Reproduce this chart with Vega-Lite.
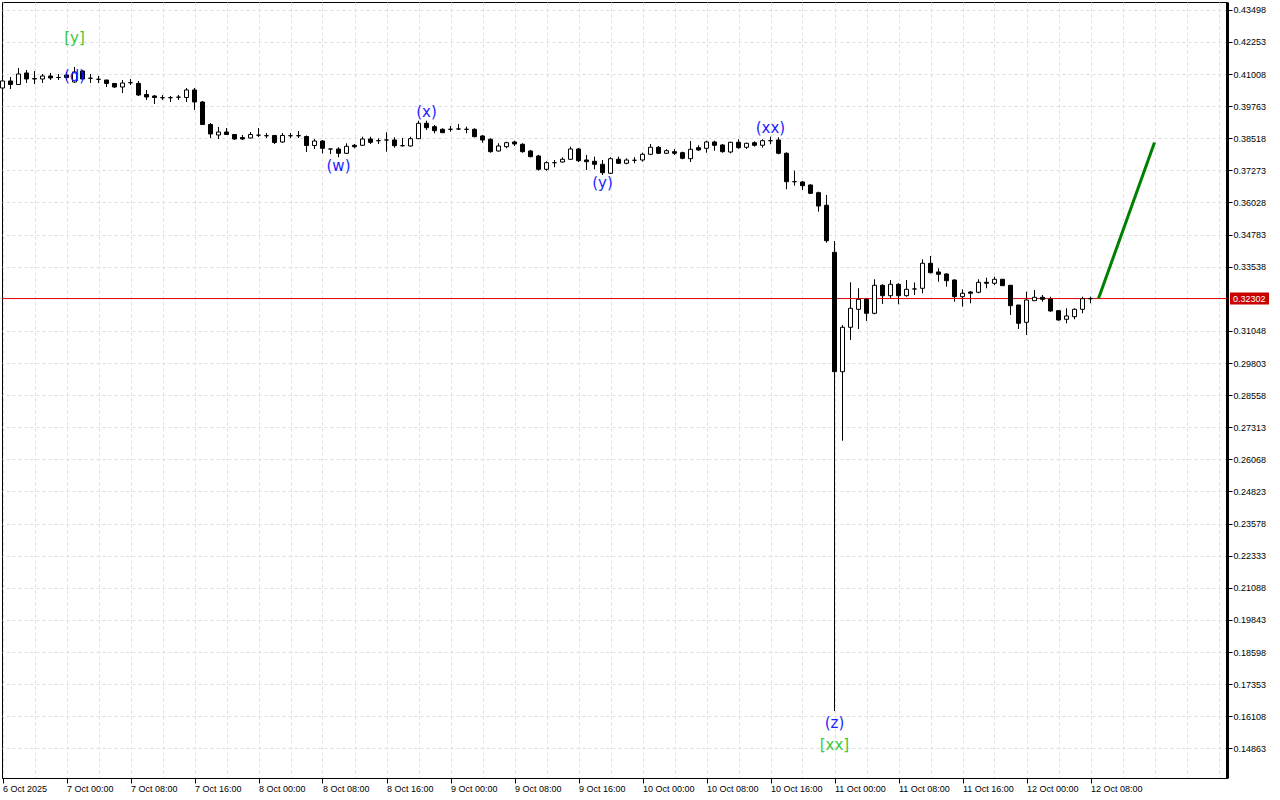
{
"$schema": "https://vega.github.io/schema/vega-lite/v6.json",
"width": 1225, "height": 776,
"autosize": {"type": "none"},
"padding": {"left": 2, "top": 2, "right": 53, "bottom": 22},
"background": "#ffffff",
"config": {"view": {"stroke": "#000000", "strokeWidth": 1}, "font": "Liberation Sans",
  "axis": {"labelFont": "Liberation Sans", "labelFontSize": 9, "labelColor": "#000000"}},
"resolve": {"axis": {"x": "independent", "y": "independent"}},
"datasets": {
"candles": [
{"t":"2025-10-06T16:00:00Z","o":0.40466,"h":0.40815,"l":0.40427,"c":0.40738},
{"t":"2025-10-06T17:00:00Z","o":0.40738,"h":0.40893,"l":0.40427,"c":0.40602},
{"t":"2025-10-06T18:00:00Z","o":0.40602,"h":0.41242,"l":0.40583,"c":0.41009},
{"t":"2025-10-06T19:00:00Z","o":0.41048,"h":0.41164,"l":0.40660,"c":0.40815},
{"t":"2025-10-06T20:00:00Z","o":0.40830,"h":0.41125,"l":0.40621,"c":0.40815},
{"t":"2025-10-06T21:00:00Z","o":0.40815,"h":0.41009,"l":0.40660,"c":0.40931},
{"t":"2025-10-06T22:00:00Z","o":0.40931,"h":0.41048,"l":0.40776,"c":0.40854},
{"t":"2025-10-06T23:00:00Z","o":0.40873,"h":0.41009,"l":0.40776,"c":0.40873},
{"t":"2025-10-07T00:00:00Z","o":0.40970,"h":0.41087,"l":0.40776,"c":0.40873},
{"t":"2025-10-07T01:00:00Z","o":0.40699,"h":0.41280,"l":0.40660,"c":0.41087},
{"t":"2025-10-07T02:00:00Z","o":0.41125,"h":0.41164,"l":0.40776,"c":0.40815},
{"t":"2025-10-07T03:00:00Z","o":0.40845,"h":0.41009,"l":0.40660,"c":0.40845},
{"t":"2025-10-07T04:00:00Z","o":0.40804,"h":0.40931,"l":0.40660,"c":0.40804},
{"t":"2025-10-07T05:00:00Z","o":0.40776,"h":0.40776,"l":0.40505,"c":0.40641},
{"t":"2025-10-07T06:00:00Z","o":0.40641,"h":0.40660,"l":0.40466,"c":0.40505},
{"t":"2025-10-07T07:00:00Z","o":0.40505,"h":0.40776,"l":0.40272,"c":0.40660},
{"t":"2025-10-07T08:00:00Z","o":0.40672,"h":0.40815,"l":0.40583,"c":0.40672},
{"t":"2025-10-07T09:00:00Z","o":0.40641,"h":0.40738,"l":0.40156,"c":0.40195},
{"t":"2025-10-07T10:00:00Z","o":0.40214,"h":0.40389,"l":0.40001,"c":0.40117},
{"t":"2025-10-07T11:00:00Z","o":0.40156,"h":0.40195,"l":0.39846,"c":0.40098},
{"t":"2025-10-07T12:00:00Z","o":0.40090,"h":0.40195,"l":0.40001,"c":0.40090},
{"t":"2025-10-07T13:00:00Z","o":0.40090,"h":0.40156,"l":0.39923,"c":0.40090},
{"t":"2025-10-07T14:00:00Z","o":0.40110,"h":0.40195,"l":0.40001,"c":0.40110},
{"t":"2025-10-07T15:00:00Z","o":0.40098,"h":0.40466,"l":0.39923,"c":0.40389},
{"t":"2025-10-07T16:00:00Z","o":0.40389,"h":0.40466,"l":0.39613,"c":0.39923},
{"t":"2025-10-07T17:00:00Z","o":0.39923,"h":0.39962,"l":0.39032,"c":0.39051},
{"t":"2025-10-07T18:00:00Z","o":0.39051,"h":0.39109,"l":0.38528,"c":0.38683},
{"t":"2025-10-07T19:00:00Z","o":0.38644,"h":0.38954,"l":0.38489,"c":0.38760},
{"t":"2025-10-07T20:00:00Z","o":0.38760,"h":0.38915,"l":0.38644,"c":0.38663},
{"t":"2025-10-07T21:00:00Z","o":0.38663,"h":0.38683,"l":0.38450,"c":0.38489},
{"t":"2025-10-07T22:00:00Z","o":0.38547,"h":0.38644,"l":0.38450,"c":0.38489},
{"t":"2025-10-07T23:00:00Z","o":0.38528,"h":0.38760,"l":0.38508,"c":0.38663},
{"t":"2025-10-08T00:00:00Z","o":0.38636,"h":0.38915,"l":0.38567,"c":0.38636},
{"t":"2025-10-08T01:00:00Z","o":0.38617,"h":0.38722,"l":0.38528,"c":0.38617},
{"t":"2025-10-08T02:00:00Z","o":0.38625,"h":0.38644,"l":0.38295,"c":0.38353},
{"t":"2025-10-08T03:00:00Z","o":0.38373,"h":0.38722,"l":0.38334,"c":0.38625},
{"t":"2025-10-08T04:00:00Z","o":0.38617,"h":0.38722,"l":0.38528,"c":0.38617},
{"t":"2025-10-08T05:00:00Z","o":0.38617,"h":0.38799,"l":0.38528,"c":0.38617},
{"t":"2025-10-08T06:00:00Z","o":0.38586,"h":0.38625,"l":0.37985,"c":0.38237},
{"t":"2025-10-08T07:00:00Z","o":0.38237,"h":0.38489,"l":0.38101,"c":0.38411},
{"t":"2025-10-08T08:00:00Z","o":0.38411,"h":0.38450,"l":0.37935,"c":0.38128},
{"t":"2025-10-08T09:00:00Z","o":0.38101,"h":0.38101,"l":0.37907,"c":0.38101},
{"t":"2025-10-08T10:00:00Z","o":0.38101,"h":0.38167,"l":0.37780,"c":0.37935},
{"t":"2025-10-08T11:00:00Z","o":0.37935,"h":0.38322,"l":0.37907,"c":0.38206},
{"t":"2025-10-08T12:00:00Z","o":0.38245,"h":0.38295,"l":0.38128,"c":0.38191},
{"t":"2025-10-08T13:00:00Z","o":0.38245,"h":0.38578,"l":0.38218,"c":0.38489},
{"t":"2025-10-08T14:00:00Z","o":0.38489,"h":0.38578,"l":0.38295,"c":0.38361},
{"t":"2025-10-08T15:00:00Z","o":0.38423,"h":0.38516,"l":0.38295,"c":0.38423},
{"t":"2025-10-08T16:00:00Z","o":0.38450,"h":0.38749,"l":0.37997,"c":0.38450},
{"t":"2025-10-08T17:00:00Z","o":0.38450,"h":0.38555,"l":0.38152,"c":0.38229},
{"t":"2025-10-08T18:00:00Z","o":0.38229,"h":0.38528,"l":0.38191,"c":0.38229},
{"t":"2025-10-08T19:00:00Z","o":0.38218,"h":0.38578,"l":0.38191,"c":0.38501},
{"t":"2025-10-08T20:00:00Z","o":0.38501,"h":0.39198,"l":0.38501,"c":0.39098},
{"t":"2025-10-08T21:00:00Z","o":0.39098,"h":0.39198,"l":0.38838,"c":0.38927},
{"t":"2025-10-08T22:00:00Z","o":0.38966,"h":0.39032,"l":0.38710,"c":0.38811},
{"t":"2025-10-08T23:00:00Z","o":0.38865,"h":0.38904,"l":0.38733,"c":0.38733},
{"t":"2025-10-09T00:00:00Z","o":0.38865,"h":0.38993,"l":0.38772,"c":0.38865},
{"t":"2025-10-09T01:00:00Z","o":0.38877,"h":0.39071,"l":0.38838,"c":0.38877},
{"t":"2025-10-09T02:00:00Z","o":0.38865,"h":0.38966,"l":0.38710,"c":0.38865},
{"t":"2025-10-09T03:00:00Z","o":0.38865,"h":0.38904,"l":0.38555,"c":0.38578},
{"t":"2025-10-09T04:00:00Z","o":0.38605,"h":0.38644,"l":0.38346,"c":0.38450},
{"t":"2025-10-09T05:00:00Z","o":0.38477,"h":0.38516,"l":0.37958,"c":0.37997},
{"t":"2025-10-09T06:00:00Z","o":0.38024,"h":0.38322,"l":0.37997,"c":0.38218},
{"t":"2025-10-09T07:00:00Z","o":0.38191,"h":0.38384,"l":0.38128,"c":0.38346},
{"t":"2025-10-09T08:00:00Z","o":0.38373,"h":0.38423,"l":0.38218,"c":0.38295},
{"t":"2025-10-09T09:00:00Z","o":0.38284,"h":0.38322,"l":0.37958,"c":0.37997},
{"t":"2025-10-09T10:00:00Z","o":0.38024,"h":0.38063,"l":0.37780,"c":0.37803},
{"t":"2025-10-09T11:00:00Z","o":0.37830,"h":0.37869,"l":0.37260,"c":0.37314},
{"t":"2025-10-09T12:00:00Z","o":0.37314,"h":0.37625,"l":0.37260,"c":0.37570},
{"t":"2025-10-09T13:00:00Z","o":0.37570,"h":0.37675,"l":0.37392,"c":0.37570},
{"t":"2025-10-09T14:00:00Z","o":0.37597,"h":0.37780,"l":0.37570,"c":0.37702},
{"t":"2025-10-09T15:00:00Z","o":0.37702,"h":0.38191,"l":0.37675,"c":0.38101},
{"t":"2025-10-09T16:00:00Z","o":0.38101,"h":0.38140,"l":0.37597,"c":0.37648},
{"t":"2025-10-09T17:00:00Z","o":0.37675,"h":0.37869,"l":0.37287,"c":0.37609},
{"t":"2025-10-09T18:00:00Z","o":0.37625,"h":0.37803,"l":0.37314,"c":0.37508},
{"t":"2025-10-09T19:00:00Z","o":0.37508,"h":0.37675,"l":0.37093,"c":0.37182},
{"t":"2025-10-09T20:00:00Z","o":0.37159,"h":0.37780,"l":0.37132,"c":0.37725},
{"t":"2025-10-09T21:00:00Z","o":0.37702,"h":0.37803,"l":0.37520,"c":0.37547},
{"t":"2025-10-09T22:00:00Z","o":0.37547,"h":0.37741,"l":0.37508,"c":0.37675},
{"t":"2025-10-09T23:00:00Z","o":0.37663,"h":0.37780,"l":0.37547,"c":0.37663},
{"t":"2025-10-10T00:00:00Z","o":0.37675,"h":0.37958,"l":0.37609,"c":0.37896},
{"t":"2025-10-10T01:00:00Z","o":0.37896,"h":0.38295,"l":0.37869,"c":0.38167},
{"t":"2025-10-10T02:00:00Z","o":0.38167,"h":0.38218,"l":0.37907,"c":0.37935},
{"t":"2025-10-10T03:00:00Z","o":0.37935,"h":0.38090,"l":0.37907,"c":0.38035},
{"t":"2025-10-10T04:00:00Z","o":0.37997,"h":0.38101,"l":0.37869,"c":0.37935},
{"t":"2025-10-10T05:00:00Z","o":0.37958,"h":0.37997,"l":0.37702,"c":0.37741},
{"t":"2025-10-10T06:00:00Z","o":0.37725,"h":0.38411,"l":0.37597,"c":0.38090},
{"t":"2025-10-10T07:00:00Z","o":0.38152,"h":0.38245,"l":0.38024,"c":0.38063},
{"t":"2025-10-10T08:00:00Z","o":0.38128,"h":0.38423,"l":0.37958,"c":0.38373},
{"t":"2025-10-10T09:00:00Z","o":0.38373,"h":0.38423,"l":0.38035,"c":0.38245},
{"t":"2025-10-10T10:00:00Z","o":0.38256,"h":0.38295,"l":0.37958,"c":0.37997},
{"t":"2025-10-10T11:00:00Z","o":0.37985,"h":0.38384,"l":0.37935,"c":0.38361},
{"t":"2025-10-10T12:00:00Z","o":0.38361,"h":0.38477,"l":0.38113,"c":0.38152},
{"t":"2025-10-10T13:00:00Z","o":0.38167,"h":0.38346,"l":0.38101,"c":0.38322},
{"t":"2025-10-10T14:00:00Z","o":0.38346,"h":0.38400,"l":0.38191,"c":0.38245},
{"t":"2025-10-10T15:00:00Z","o":0.38245,"h":0.38477,"l":0.38152,"c":0.38423},
{"t":"2025-10-10T16:00:00Z","o":0.38423,"h":0.38578,"l":0.38284,"c":0.38423},
{"t":"2025-10-10T17:00:00Z","o":0.38450,"h":0.38555,"l":0.37896,"c":0.37935},
{"t":"2025-10-10T18:00:00Z","o":0.37935,"h":0.37973,"l":0.36539,"c":0.36833},
{"t":"2025-10-10T19:00:00Z","o":0.36833,"h":0.37260,"l":0.36678,"c":0.36833},
{"t":"2025-10-10T20:00:00Z","o":0.36822,"h":0.36861,"l":0.36512,"c":0.36678},
{"t":"2025-10-10T21:00:00Z","o":0.36706,"h":0.36733,"l":0.36357,"c":0.36384},
{"t":"2025-10-10T22:00:00Z","o":0.36407,"h":0.36446,"l":0.35671,"c":0.35891},
{"t":"2025-10-10T23:00:00Z","o":0.35919,"h":0.36318,"l":0.34469,"c":0.34546},
{"t":"2025-10-11T00:00:00Z","o":0.34096,"h":0.34535,"l":0.16312,"c":0.29467},
{"t":"2025-10-11T01:00:00Z","o":0.29467,"h":0.31278,"l":0.26792,"c":0.31189},
{"t":"2025-10-11T02:00:00Z","o":0.31189,"h":0.32933,"l":0.30696,"c":0.31925},
{"t":"2025-10-11T03:00:00Z","o":0.31886,"h":0.32700,"l":0.31123,"c":0.32274},
{"t":"2025-10-11T04:00:00Z","o":0.32274,"h":0.32313,"l":0.31433,"c":0.31731},
{"t":"2025-10-11T05:00:00Z","o":0.31731,"h":0.33050,"l":0.31692,"c":0.32817},
{"t":"2025-10-11T06:00:00Z","o":0.32817,"h":0.32856,"l":0.32092,"c":0.32414},
{"t":"2025-10-11T07:00:00Z","o":0.32414,"h":0.33022,"l":0.32313,"c":0.32856},
{"t":"2025-10-11T08:00:00Z","o":0.32856,"h":0.32895,"l":0.32080,"c":0.32414},
{"t":"2025-10-11T09:00:00Z","o":0.32414,"h":0.33022,"l":0.32375,"c":0.32662},
{"t":"2025-10-11T10:00:00Z","o":0.32674,"h":0.32926,"l":0.32441,"c":0.32674},
{"t":"2025-10-11T11:00:00Z","o":0.32700,"h":0.33825,"l":0.32507,"c":0.33670},
{"t":"2025-10-11T12:00:00Z","o":0.33670,"h":0.33953,"l":0.33282,"c":0.33305},
{"t":"2025-10-11T13:00:00Z","o":0.33333,"h":0.33476,"l":0.32956,"c":0.33243},
{"t":"2025-10-11T14:00:00Z","o":0.33255,"h":0.33282,"l":0.32763,"c":0.32995},
{"t":"2025-10-11T15:00:00Z","o":0.33022,"h":0.33050,"l":0.32181,"c":0.32375},
{"t":"2025-10-11T16:00:00Z","o":0.32375,"h":0.32662,"l":0.31987,"c":0.32507},
{"t":"2025-10-11T17:00:00Z","o":0.32557,"h":0.32596,"l":0.32119,"c":0.32507},
{"t":"2025-10-11T18:00:00Z","o":0.32546,"h":0.33050,"l":0.32507,"c":0.32933},
{"t":"2025-10-11T19:00:00Z","o":0.32933,"h":0.33112,"l":0.32700,"c":0.32895},
{"t":"2025-10-11T20:00:00Z","o":0.32895,"h":0.33150,"l":0.32829,"c":0.33050},
{"t":"2025-10-11T21:00:00Z","o":0.33050,"h":0.33050,"l":0.32802,"c":0.32802},
{"t":"2025-10-11T22:00:00Z","o":0.32817,"h":0.32817,"l":0.31666,"c":0.32026},
{"t":"2025-10-11T23:00:00Z","o":0.32053,"h":0.32053,"l":0.31123,"c":0.31344},
{"t":"2025-10-12T00:00:00Z","o":0.31382,"h":0.32569,"l":0.30890,"c":0.32247},
{"t":"2025-10-12T01:00:00Z","o":0.32220,"h":0.32635,"l":0.32208,"c":0.32352},
{"t":"2025-10-12T02:00:00Z","o":0.32352,"h":0.32441,"l":0.32181,"c":0.32274},
{"t":"2025-10-12T03:00:00Z","o":0.32286,"h":0.32375,"l":0.31793,"c":0.31820},
{"t":"2025-10-12T04:00:00Z","o":0.31832,"h":0.31859,"l":0.31445,"c":0.31472},
{"t":"2025-10-12T05:00:00Z","o":0.31499,"h":0.31925,"l":0.31344,"c":0.31627},
{"t":"2025-10-12T06:00:00Z","o":0.31600,"h":0.31925,"l":0.31499,"c":0.31886},
{"t":"2025-10-12T07:00:00Z","o":0.31886,"h":0.32375,"l":0.31731,"c":0.32297},
{"t":"2025-10-12T08:00:00Z","o":0.32297,"h":0.32375,"l":0.32119,"c":0.32302}
],
"projection": [
{"t":"2025-10-12T09:00:00Z","p":0.32302},
{"t":"2025-10-12T16:00:00Z","p":0.38350}
],
"waves": [
{"t":"2025-10-07T01:00:00Z","p":0.42405,"label":"[y]","g":"major"},
{"t":"2025-10-07T01:00:00Z","p":0.40912,"label":"(d)","g":"minor"},
{"t":"2025-10-08T10:00:00Z","p":0.37442,"label":"(w)","g":"minor"},
{"t":"2025-10-08T21:00:00Z","p":0.39536,"label":"(x)","g":"minor"},
{"t":"2025-10-09T19:00:00Z","p":0.36783,"label":"(y)","g":"minor"},
{"t":"2025-10-10T16:00:00Z","p":0.38915,"label":"(xx)","g":"minor"},
{"t":"2025-10-11T00:00:00Z","p":0.15847,"label":"(z)","g":"minor"},
{"t":"2025-10-11T00:00:00Z","p":0.15006,"label":"[xx]","g":"major"}
]
},
"layer": [
{
 "data": {"name": "candles"},
 "mark": {"type": "rule", "color": "#000000", "strokeWidth": 1},
 "encoding": {
  "x": {"field": "t", "type": "temporal",
    "scale": {"type": "utc", "nice": false, "padding": 0,
      "domain": [{"year": 2025, "month": 10, "date": 6, "hours": 15, "minutes": 56, "seconds": 15, "utc": true},
                 {"year": 2025, "month": 10, "date": 13, "hours": 1, "minutes": 3, "seconds": 45, "utc": true}]},
    "axis": {"title": null, "orient": "bottom",
      "values": [
        {"year":2025,"month":10,"date":6,"hours":16,"utc":true},{"year":2025,"month":10,"date":6,"hours":20,"utc":true},
        {"year":2025,"month":10,"date":7,"hours":0,"utc":true},{"year":2025,"month":10,"date":7,"hours":4,"utc":true},{"year":2025,"month":10,"date":7,"hours":8,"utc":true},{"year":2025,"month":10,"date":7,"hours":12,"utc":true},{"year":2025,"month":10,"date":7,"hours":16,"utc":true},{"year":2025,"month":10,"date":7,"hours":20,"utc":true},
        {"year":2025,"month":10,"date":8,"hours":0,"utc":true},{"year":2025,"month":10,"date":8,"hours":4,"utc":true},{"year":2025,"month":10,"date":8,"hours":8,"utc":true},{"year":2025,"month":10,"date":8,"hours":12,"utc":true},{"year":2025,"month":10,"date":8,"hours":16,"utc":true},{"year":2025,"month":10,"date":8,"hours":20,"utc":true},
        {"year":2025,"month":10,"date":9,"hours":0,"utc":true},{"year":2025,"month":10,"date":9,"hours":4,"utc":true},{"year":2025,"month":10,"date":9,"hours":8,"utc":true},{"year":2025,"month":10,"date":9,"hours":12,"utc":true},{"year":2025,"month":10,"date":9,"hours":16,"utc":true},{"year":2025,"month":10,"date":9,"hours":20,"utc":true},
        {"year":2025,"month":10,"date":10,"hours":0,"utc":true},{"year":2025,"month":10,"date":10,"hours":4,"utc":true},{"year":2025,"month":10,"date":10,"hours":8,"utc":true},{"year":2025,"month":10,"date":10,"hours":12,"utc":true},{"year":2025,"month":10,"date":10,"hours":16,"utc":true},{"year":2025,"month":10,"date":10,"hours":20,"utc":true},
        {"year":2025,"month":10,"date":11,"hours":0,"utc":true},{"year":2025,"month":10,"date":11,"hours":4,"utc":true},{"year":2025,"month":10,"date":11,"hours":8,"utc":true},{"year":2025,"month":10,"date":11,"hours":12,"utc":true},{"year":2025,"month":10,"date":11,"hours":16,"utc":true},{"year":2025,"month":10,"date":11,"hours":20,"utc":true},
        {"year":2025,"month":10,"date":12,"hours":0,"utc":true},{"year":2025,"month":10,"date":12,"hours":4,"utc":true},{"year":2025,"month":10,"date":12,"hours":8,"utc":true},{"year":2025,"month":10,"date":12,"hours":12,"utc":true},{"year":2025,"month":10,"date":12,"hours":16,"utc":true},{"year":2025,"month":10,"date":12,"hours":20,"utc":true},
        {"year":2025,"month":10,"date":13,"hours":0,"utc":true}],
      "labelExpr": "(utchours(datum.value) % 8 != 0 || utcdate(datum.value) > 12 || (utcdate(datum.value) == 12 && utchours(datum.value) > 8)) ? '' : (utcdate(datum.value) == 6 ? '6 Oct 2025' : utcFormat(datum.value, '%-d %b %H:%M'))",
      "labelAlign": "left", "labelBaseline": "top", "labelPadding": 1, "labelOverlap": false, "labelFlush": false, "labelBound": false,
      "ticks": true, "tickSize": 5, "tickColor": "#000000",
      "tickOpacity": {"condition": {"test": "utchours(datum.value) % 8 == 0 && (utcdate(datum.value) < 12 || (utcdate(datum.value) == 12 && utchours(datum.value) <= 8))", "value": 1}, "value": 0},
      "domain": true, "domainColor": "#000000",
      "grid": true, "gridColor": "#dedede", "gridDash": [3, 3], "gridWidth": 1}},
  "y": {"field": "l", "type": "quantitative",
    "scale": {"domain": [0.13715, 0.438], "nice": false, "zero": false},
    "axis": {"title": null, "orient": "right",
      "values": [0.43498,0.42253,0.41008,0.39763,0.38518,0.37273,0.36028,0.34783,0.33538,0.31048,0.29803,0.28558,0.27313,0.26068,0.24823,0.23578,0.22333,0.21088,0.19843,0.18598,0.17353,0.16108,0.14863],
      "format": ".5f", "labelPadding": 1, "tickSize": 5, "tickColor": "#000000",
      "domain": true, "domainColor": "#000000", "domainWidth": 3,
      "labelOverlap": false, "labelFlush": false, "labelBound": false,
      "grid": true, "gridColor": "#dedede", "gridDash": [3, 3], "gridWidth": 1}},
  "y2": {"field": "h"}
 }
},
{
 "data": {"values": [{"p": 0.32302}]},
 "mark": {"type": "rule", "color": "#e00000", "strokeWidth": 1},
 "encoding": {"y": {"field": "p", "type": "quantitative", "axis": null}}
},
{
 "data": {"name": "candles"},
 "mark": {"type": "bar", "size": 4, "stroke": "#000000", "strokeWidth": 1, "orient": "vertical"},
 "encoding": {
  "x": {"field": "t", "type": "temporal", "axis": null},
  "y": {"field": "o", "type": "quantitative", "axis": null},
  "y2": {"field": "c"},
  "fill": {"condition": {"test": "datum.c >= datum.o", "value": "#ffffff"}, "value": "#000000"}
 }
},
{
 "data": {"name": "projection"},
 "mark": {"type": "line", "color": "#008000", "strokeWidth": 3},
 "encoding": {
  "x": {"field": "t", "type": "temporal", "axis": null},
  "y": {"field": "p", "type": "quantitative", "axis": null}
 }
},
{
 "data": {"name": "waves"},
 "mark": {"type": "text", "font": "DejaVu Sans", "fontSize": 15, "align": "center", "baseline": "middle"},
 "encoding": {
  "x": {"field": "t", "type": "temporal", "axis": null},
  "y": {"field": "p", "type": "quantitative", "axis": null},
  "text": {"field": "label"},
  "color": {"field": "g", "type": "nominal", "scale": {"domain": ["minor", "major"], "range": ["#1e1eff", "#3cc83c"]}, "legend": null}
 }
},
{
 "data": {"values": [{"p": 0.32302}]},
 "mark": {"type": "rect", "color": "#c80000", "clip": false},
 "encoding": {
  "x": {"datum": {"year": 2025, "month": 10, "date": 13, "hours": 1, "minutes": 26, "seconds": 15, "utc": true}, "type": "temporal", "axis": null},
  "x2": {"datum": {"year": 2025, "month": 10, "date": 13, "hours": 6, "minutes": 18, "seconds": 45, "utc": true}},
  "y": {"datum": 0.32538, "type": "quantitative", "axis": null},
  "y2": {"datum": 0.32073}
 }
},
{
 "data": {"values": [{"p": 0.32302}]},
 "mark": {"type": "text", "color": "#ffffff", "font": "Liberation Sans", "fontSize": 9, "align": "left", "baseline": "middle", "dx": 3, "clip": false},
 "encoding": {
  "x": {"datum": {"year": 2025, "month": 10, "date": 13, "hours": 1, "minutes": 26, "seconds": 15, "utc": true}, "type": "temporal", "axis": null},
  "y": {"field": "p", "type": "quantitative", "axis": null},
  "text": {"field": "p", "type": "quantitative", "format": ".5f"}
 }
}
]
}
